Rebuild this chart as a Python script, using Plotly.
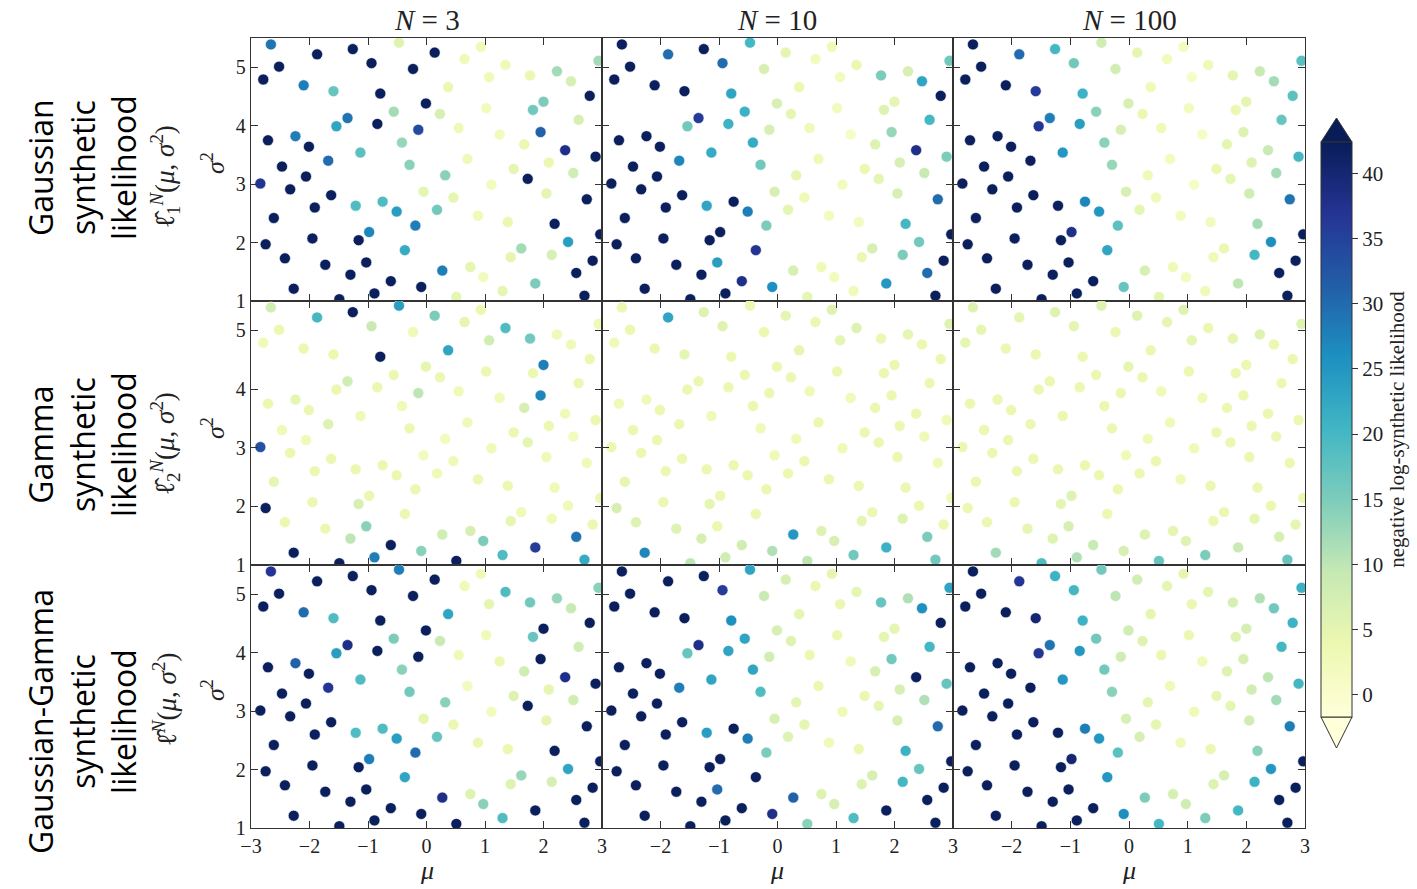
import plotly.graph_objects as go
from plotly.subplots import make_subplots

D = 42  # saturated (above colour range)

MU = [-2.66, -1.87, -1.26, -0.47, 0.14, 0.65, 0.93, -2.52, -2.79, -2.10,
      -1.59, -0.94, -0.23, -0.79, 0.37, 1.07, 1.35, 1.77, 2.23, 2.47,
      2.94, 2.79, -0.01, -0.56, 0.23, 1.02, 1.82, 2.00, 2.60, -1.35,
      -1.54, -0.84, -0.14, 0.55, 1.25, 1.95, -2.71, -2.24, -2.01, -0.42,
      -1.13, -1.68, 1.67, 2.37, 2.89, -2.47, -2.06, -0.29, 0.70, 1.49,
      1.73, 2.09, 2.51, -2.84, -2.33, -1.63, 0.32, 1.11, -0.05, 0.46,
      2.05, 2.74, -1.91, -1.21, -0.75, -0.51, 0.18, 0.88, 1.39, -2.61,
      -0.19, 2.19, 2.97, -2.75, -1.95, -1.16, -0.98, -0.37, 2.42, -2.42,
      -1.73, -1.03, -1.30, -0.61, 0.27, 0.75, 0.97, 1.44, 1.62, 2.14,
      2.84, 2.56, -2.27, -1.49, -0.89, -0.09, 0.51, 1.30, 1.86, 2.70]

SIGMA2 = [5.39, 5.22, 5.31, 5.42, 5.25, 5.14, 5.35, 5.01, 4.79, 4.69,
          4.59, 5.07, 4.97, 4.55, 4.66, 4.83, 5.04, 4.86, 4.93, 4.76,
          5.11, 4.51, 4.38, 4.24, 4.20, 4.30, 4.27, 4.41, 4.10, 4.13,
          3.99, 4.03, 3.93, 3.96, 3.85, 3.89, 3.75, 3.82, 3.64, 3.71,
          3.54, 3.40, 3.68, 3.58, 3.47, 3.30, 3.13, 3.33, 3.43, 3.26,
          3.09, 3.37, 3.19, 3.01, 2.91, 2.81, 3.15, 2.99, 2.87, 2.77,
          2.84, 2.74, 2.60, 2.63, 2.70, 2.53, 2.56, 2.46, 2.35, 2.42,
          2.29, 2.32, 2.14, 1.97, 2.07, 2.04, 2.18, 1.87, 2.01, 1.73,
          1.62, 1.66, 1.45, 1.34, 1.52, 1.58, 1.41, 1.75, 1.90, 1.79,
          1.69, 1.48, 1.21, 1.03, 1.13, 1.24, 1.07, 1.17, 1.30, 1.09]

GAUSS_N3 = [29, D, D, 6, D, 3, 3, D, D, 28,
            17, D, D, D, 4, 3, 3, 4, 12, 7,
            12, D, D, 12, 7, 2, 16, 15, 7, 29,
            23, D, 34, 3, 2, 31, D, 28, D, 13,
            18, 30, 4, 38, D, D, D, 14, 3, 5,
            D, 4, 8, 37, D, D, 14, 2, 5, 5,
            5, D, D, 19, 19, 24, 16, 3, 4, D,
            28, D, D, D, D, D, 27, 22, 24, D,
            D, D, D, D, 28, 5, 2, 5, 12, 7,
            D, D, D, D, D, D, 5, 5, 15, D]

GAUSS_N10 = [D, 30, D, 20, 5, 2, 3, D, D, D,
             D, 30, 7, 23, 4, 2, 4, 15, 7, 23,
             16, D, 7, 21, 5, 2, 6, 5, 20, 36,
             16, 21, 7, 3, 1, 13, D, D, D, 22,
             22, 27, 6, 38, 15, D, D, 16, 3, 4,
             5, 7, 9, D, D, D, 5, 2, 7, 3,
             7, 30, D, 23, D, 28, 5, 2, 2, D,
             15, 20, D, D, D, D, D, 37, 16, D,
             D, 24, D, 38, 7, 3, 2, 4, 7, 15,
             D, 30, D, D, D, 26, 5, 3, 25, D]

GAUSS_N100 = [D, 30, 20, 8, 5, 2, 2, D, D, D,
              36, 16, 8, 21, 3, 1, 3, 5, 9, 12,
              18, 18, 7, 14, 4, 2, 4, 5, 17, 28,
              37, 24, 7, 3, 1, 6, D, D, D, 14,
              25, D, 5, 9, 20, D, D, 13, 2, 4,
              5, 6, 12, D, D, D, 3, 1, 7, 3,
              8, 29, D, D, 27, 25, 5, 2, 2, D,
              18, 12, D, D, D, D, 38, 23, 26, D,
              D, D, D, D, 7, 3, 2, 3, 4, 20,
              D, D, D, D, D, 17, 5, 3, 10, D]

GAMMA_N3 = [8, 20, D, 24, 15, 5, 4, 4, 3, 4,
            4, 9, 3, D, 23, 8, 19, 16, 3, 3,
            3, 4, 5, 4, 4, 4, 4, 28, 4, 8,
            4, 4, 10, 3, 3, 27, 4, 5, 4, 3,
            3, 6, 7, 3, 4, 3, 3, 4, 3, 4,
            5, 4, 2, 33, 4, 4, 2, 3, 2, 3,
            3, 3, 4, 4, 4, 4, 3, 4, 4, 5,
            4, 3, 4, D, 4, 7, 4, 4, 3, 4,
            4, 14, 10, D, 8, 7, 15, 5, 3, 3,
            4, 29, D, D, 28, 14, D, 19, 36, 22]

GAMMA_N10 = [4, 23, 6, 4, 5, 4, 6, 4, 3, 4,
             5, 6, 4, 4, 5, 5, 6, 4, 5, 4,
             6, 4, 4, 4, 4, 4, 4, 4, 4, 4,
             4, 4, 4, 3, 3, 4, 3, 3, 4, 4,
             3, 4, 4, 4, 3, 4, 4, 3, 4, 4,
             4, 4, 3, 4, 4, 4, 3, 3, 3, 4,
             4, 3, 4, 4, 4, 4, 4, 4, 4, 5,
             4, 4, 3, 7, 4, 5, 4, 4, 4, 6,
             6, 4, 7, 8, 25, 6, 7, 5, 4, 6,
             4, 15, 27, 10, 8, 11, 10, 16, 21, 16]

GAMMA_N100 = [6, 5, 6, 6, 6, 5, 6, 5, 5, 4,
              4, 5, 4, 4, 4, 5, 4, 5, 6, 4,
              6, 4, 5, 4, 4, 4, 4, 4, 4, 4,
              4, 4, 4, 3, 3, 4, 4, 4, 4, 4,
              4, 4, 4, 4, 4, 4, 4, 4, 3, 4,
              4, 4, 4, 4, 4, 4, 3, 3, 3, 4,
              4, 4, 4, 4, 4, 4, 4, 3, 4, 4,
              4, 4, 4, 4, 4, 5, 6, 4, 4, 4,
              5, 7, 6, 9, 6, 5, 6, 4, 4, 5,
              5, 7, 12, 19, 11, 7, 17, 15, 9, 17]

GG_N3 = [37, D, D, 28, D, 3, 3, D, D, 30,
         19, D, D, D, 23, 5, 19, 16, 13, 9,
         14, D, D, 15, 9, 3, 17, D, 8, 38,
         24, D, D, 3, 4, D, D, 31, D, 14,
         19, 37, 8, 38, D, D, D, 16, 2, 6,
         D, 5, 8, D, D, D, 14, 2, 5, 4,
         5, D, D, 19, 19, 24, 17, 4, 4, D,
         30, D, D, D, D, D, 28, 23, 23, D,
         D, D, D, D, 38, 6, 14, 6, 13, 7,
         D, D, D, D, D, D, D, 19, D, D]

GG_N10 = [D, D, D, 23, 7, 4, 5, D, D, D,
          D, 36, 9, 26, 5, 4, 5, 17, 11, 26,
          23, D, 7, 23, 6, 4, 5, 5, 20, 38,
          17, 23, 8, 4, 3, 16, D, D, D, 23,
          23, 28, 7, D, 17, D, D, 19, 4, 4,
          5, 7, 11, D, D, D, 5, 3, 7, 5,
          7, 30, D, 24, D, 28, 6, 3, 4, D,
          15, 21, D, D, D, D, D, D, 17, D,
          D, 30, D, D, 31, 6, 7, 6, 7, 20,
          D, D, D, D, D, 38, 14, 19, D, D]

GG_N100 = [D, 37, 21, 16, 8, 5, 5, D, D, D,
           40, 20, 10, 21, 5, 4, 5, 7, 11, 16,
           21, 21, 8, 16, 6, 4, 6, 7, 20, 29,
           37, 25, 8, 4, 3, 7, D, D, D, 16,
           25, D, 6, 10, 20, D, D, 14, 3, 5,
           5, 8, 12, D, D, D, 5, 3, 7, 5,
           8, 28, D, D, 28, 25, 7, 3, 4, D,
           18, 14, D, D, D, D, 40, 25, 25, D,
           D, D, D, D, 15, 7, 8, 6, 7, 21,
           D, D, D, D, D, 26, 20, 15, 20, D]

ELL = '<span style="font-family:DejaVu Serif">ℓ̂</span>'
COL_TITLES = ["<i>N</i> = 3", "<i>N</i> = 10", "<i>N</i> = 100"]
ROW_NAMES = ["Gaussian<br>synthetic<br>likelihood",
             "Gamma<br>synthetic<br>likelihood",
             "Gaussian-Gamma<br>synthetic<br>likelihood"]
ROW_MATH = [ELL + "<sub>1</sub><sup><i>N</i></sup>(<i>μ</i>, <i>σ</i><sup>2</sup>)",
            ELL + "<sub>2</sub><sup><i>N</i></sup>(<i>μ</i>, <i>σ</i><sup>2</sup>)",
            ELL + "<sup><i>N</i></sup>(<i>μ</i>, <i>σ</i><sup>2</sup>)"]
CB_TICKS = [0, 5, 10, 15, 20, 25, 30, 35, 40]
CB_TITLE = "negative log-synthetic likelihood"

PANELS = [[GAUSS_N3, GAUSS_N10, GAUSS_N100],
          [GAMMA_N3, GAMMA_N10, GAMMA_N100],
          [GG_N3, GG_N10, GG_N100]]

W, H = 1417, 889
SERIF = "Liberation Serif"
COLS_PX = [(251, 602), (602, 953), (953, 1305)]
ROWS_PX = [(38, 301), (301, 565), (565, 828)]

YLGNBU = ["#ffffd9", "#edf8b1", "#c7e9b4", "#7fcdbb", "#41b6c4",
          "#1d91c0", "#225ea8", "#253494", "#081d58"]
cscale = [[i / 8, c] for i, c in enumerate(YLGNBU)]

fig = make_subplots(rows=3, cols=3, horizontal_spacing=0, vertical_spacing=0)

for r in range(3):
    for c in range(3):
        fig.add_trace(go.Scatter(
            x=MU, y=SIGMA2, mode="markers",
            marker=dict(size=11, color=PANELS[r][c], coloraxis="coloraxis",
                        line=dict(width=0.6, color="white")),
            showlegend=False, hoverinfo="skip"), row=r + 1, col=c + 1)
        n = r * 3 + c + 1
        xa = "xaxis" if n == 1 else f"xaxis{n}"
        ya = "yaxis" if n == 1 else f"yaxis{n}"
        x0, x1 = COLS_PX[c]
        y0, y1 = ROWS_PX[r]
        common = dict(showline=True, linecolor="#333", linewidth=1.3, mirror="allticks",
                      ticks="inside", ticklen=7, tickwidth=1.2, tickcolor="#333",
                      showgrid=False, zeroline=False, automargin=False,
                      tickfont=dict(family=SERIF, size=20, color="#222"))
        fig.layout[xa].update(domain=[x0 / W, x1 / W], range=[-3, 3],
                              tickvals=[-3, -2, -1, 0, 1, 2, 3] if c == 0 else [-2, -1, 0, 1, 2, 3],
                              showticklabels=(r == 2), **common)
        fig.layout[ya].update(domain=[1 - y1 / H, 1 - y0 / H], range=[1, 5.5],
                              tickvals=[1, 2, 3, 4, 5], showticklabels=(c == 0), **common)

ann = []
P = dict(xref="paper", yref="paper", showarrow=False, xanchor="center", yanchor="middle")
for c in range(3):
    xc = (COLS_PX[c][0] + COLS_PX[c][1]) / 2 / W
    ann.append(dict(x=xc, y=1 - 20 / H, text=COL_TITLES[c],
                    font=dict(family=SERIF, size=29, color="#222"), **P))
    ann.append(dict(x=xc, y=1 - 870 / H, text="<i>μ</i>",
                    font=dict(family=SERIF, size=26, color="#222"), **P))

ROW_LABEL_Y = [168, 445, 722]
MATH_Y = [177, 444, 700]
SIG_Y = [163, 428, 690]
for r in range(3):
    ann.append(dict(x=82 / W, y=1 - ROW_LABEL_Y[r] / H, text=ROW_NAMES[r],
                    textangle=-90, font=dict(family="Open Sans", size=32, color="#000"), **P))
    ann.append(dict(x=165 / W, y=1 - MATH_Y[r] / H, text=ROW_MATH[r],
                    textangle=-90, font=dict(family=SERIF, size=27, color="#222"), **P))
    ann.append(dict(x=213 / W, y=1 - SIG_Y[r] / H, text="<i>σ</i><sup>2</sup>",
                    textangle=-90, font=dict(family=SERIF, size=26, color="#222"), **P))

cb_top, cb_bot = 142, 717
cx0, cx1 = 1321 / W, 1352 / W
cxm = (cx0 + cx1) / 2
shapes = [
    dict(type="path", xref="paper", yref="paper",
         path=f"M {cx0},{1 - cb_top / H} L {cx1},{1 - cb_top / H} L {cxm},{1 - 118 / H} Z",
         fillcolor=YLGNBU[-1], line=dict(color="#333", width=1)),
    dict(type="path", xref="paper", yref="paper",
         path=f"M {cx0},{1 - cb_bot / H} L {cx1},{1 - cb_bot / H} L {cxm},{1 - 748 / H} Z",
         fillcolor=YLGNBU[0], line=dict(color="#333", width=1)),
]

fig.update_layout(
    width=W, height=H, margin=dict(l=0, r=0, t=0, b=0, autoexpand=False),
    paper_bgcolor="white", plot_bgcolor="white",
    annotations=ann, shapes=shapes,
    coloraxis=dict(
        colorscale=cscale, cmin=-1.7, cmax=42.4,
        colorbar=dict(
            x=cx0, xanchor="left", y=1 - (cb_top + cb_bot) / 2 / H, yanchor="middle",
            len=(cb_bot - cb_top) / H, lenmode="fraction",
            thickness=31, thicknessmode="pixels", xpad=0, ypad=0,
            outlinewidth=1, outlinecolor="#333",
            tickvals=CB_TICKS, ticks="outside", ticklen=6, tickcolor="#333",
            tickfont=dict(family=SERIF, size=21, color="#222"),
            title=dict(text=CB_TITLE, side="right",
                       font=dict(family=SERIF, size=21, color="#222")),
        ),
    ),
)

fig.write_html("out.html")
